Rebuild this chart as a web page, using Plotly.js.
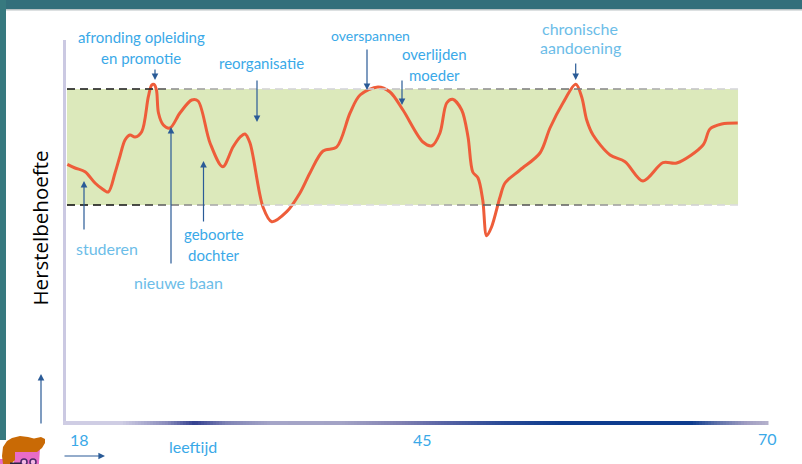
<!DOCTYPE html>
<html>
<head>
<meta charset="utf-8">
<script src="https://cdn.plot.ly/plotly-3.0.1.min.js"></script>
<style>html,body{margin:0;padding:0;background:#fff;overflow:hidden}#chart{width:802px;height:464px}</style>
</head>
<body>
<div id="chart"></div>
<script>
// Life-course curve: age (years) and recovery need (relative index)
const ages = [18.10,18.67,19.41,20.15,20.60,21.13,21.63,22.00,22.37,22.74,23.11,23.61,24.10,24.35,24.52,24.70,24.85,25.21,25.70,26.44,27.31,27.78,28.67,29.61,30.37,30.90,31.26,31.63,32.59,33.24,34.35,35.33,36.07,37.04,38.05,39.04,39.78,41.11,42.00,42.96,44.44,45.11,45.70,46.20,46.64,47.31,47.78,48.13,48.52,48.87,49.16,49.53,50.15,50.52,51.63,53.11,53.85,54.81,55.76,56.20,56.57,57.04,58.30,59.41,60.74,62.22,63.24,65.19,65.70,66.57,67.76];
const herstel = [258.7,255,251.3,240,235,231,250,267,283,288,286,291.3,326.3,338,338.7,333,310,298,295,310,323,322,280,256.3,276,286,289,280,216,201.3,211.3,230,250,272,276,310,328,336,331,313,281,277.3,290,320,323.7,313,286,251,245,223,187.3,196.3,226,240,253,270,295,320,338.7,326,303,288,268,261.3,242,260.3,260,278,294,299,300];
const bandLow = 218, bandHigh = 334, bandStart = 18.07, bandEnd = 67.78;

const tickLabels = ["18","45","70"];
const xTitle = "leeftijd", yTitle = "Herstelbehoefte";
const eventLabels = ["afronding opleiding","en promotie","reorganisatie","overspannen","overlijden","moeder","chronische","aandoening","studeren","geboorte","dochter","nieuwe baan"];

const W=802,H=464,pxPerYear=13.5;
const xr=[18-66/pxPerYear,18+(W-66)/pxPerYear], yr=[423-H,423];
const fx=p=>18+(p-66)/pxPerYear, fy=p=>423-p;

function hex(c){return [1,3,5].map(i=>parseInt(c.substr(i,2),16));}
function ramp(stops,p){
  if(p<=stops[0][0])return stops[0][1];
  for(let i=1;i<stops.length;i++){
    if(p<=stops[i][0]){
      const t=(p-stops[i-1][0])/(stops[i][0]-stops[i-1][0]),a=hex(stops[i-1][1]),b=hex(stops[i][1]);
      return "rgb("+a.map((v,k)=>Math.round(v+(b[k]-v)*t)).join(",")+")";
    }
  }
  return stops[stops.length-1][1];
}
const rectPx=(x0,y0,x1,y1,color,layer)=>({type:"rect",xref:"x",yref:"y",x0:fx(x0),x1:fx(x1),y0:fy(y0),y1:fy(y1),fillcolor:color,line:{width:0},layer:layer||"below"});
const pathPx=(pts,color)=>({type:"path",xref:"x",yref:"y",path:"M"+pts.map(p=>fx(p[0])+","+fy(p[1])).join("L")+"Z",fillcolor:color,line:{width:0},layer:"above"});
const circlePx=(cx,cy,r,fill,stroke)=>({type:"circle",xref:"x",yref:"y",x0:fx(cx-r),x1:fx(cx+r),y0:fy(cy-r),y1:fy(cy+r),fillcolor:fill,line:{color:stroke,width:1.5},layer:"above"});

const shapes=[];
// frame
shapes.push(rectPx(0,0,802,9,"#336f7b"));
shapes.push(rectPx(0,9,802,10.5,"#b9c2c4"));
shapes.push(rectPx(0,0,6,440,"#37797f"));
// healthy band
shapes.push({type:"rect",xref:"x",yref:"y",x0:bandStart,x1:bandEnd,y0:bandLow,y1:bandHigh,fillcolor:"#dce9bb",line:{width:0},layer:"below"});
// fading dashes
const topStops=[[67,"#1c1c1c"],[148,"#2a2a2a"],[170,"#8f8f8f"],[230,"#b8b8b8"],[260,"#d5d5d5"],[360,"#d5d5dc"],[420,"#b5b5b5"],[500,"#8a8a8a"],[560,"#767676"],[600,"#8c8c8c"],[660,"#b5b5b5"],[738,"#dcdce0"]];
const botStops=[[67,"#111111"],[135,"#222222"],[165,"#777777"],[210,"#aaaaaa"],[270,"#cfcfcf"],[320,"#dedee4"],[400,"#dcdce0"],[470,"#888888"],[490,"#4f4f4f"],[560,"#666666"],[600,"#999999"],[660,"#c8c8c8"],[738,"#dedee2"]];
for(let p=67;p<738;p+=13){
  const e=Math.min(p+8,738);
  shapes.push(rectPx(p,88.2,e,89.8,ramp(topStops,p),"above"));
  shapes.push(rectPx(p,204.2,e,205.8,ramp(botStops,p),"above"));
}
// axes
shapes.push(rectPx(63,40,66,425,"#cbc9e2"));
const axStops=[[63,"#cfcde4"],[120,"#cfcde4"],[165,"#8a8cbc"],[193,"#33408f"],[225,"#7f83b5"],[270,"#a5a5c8"],[340,"#a3a3c6"],[400,"#8080b2"],[440,"#5a65a5"],[500,"#2a4a96"],[560,"#0e3c8e"],[690,"#0e3c8e"],[715,"#5b6fa8"],[745,"#a09dc2"],[767,"#b5b2cc"]];
for(let p=63;p<767;p+=3){shapes.push(rectPx(p,421,p+3.5,425,ramp(axStops,p)));}
// character in the corner
shapes.push(rectPx(0,459,8,464,"#e86cc8","above"));
shapes.push(pathPx([[14,448],[40,448],[39,464],[14,464]],"#e86cc8"));
shapes.push(pathPx([[2,456],[3,447],[7,441],[12,438],[20,436],[28,437],[34,438.5],[41,437],[45,439],[45,443],[42,448],[37,452],[15,452],[15,460],[11,464],[3,464]],"#c96a05"));
shapes.push(circlePx(24,462,3,"#f3b9e4","#4a2a6a"));
shapes.push(circlePx(33,462,3,"#f3b9e4","#4a2a6a"));
shapes.push(rectPx(10,462.5,21,464,"#2b2340","above"));

// labels
const blue="#3aa9e8", pale="#6cbde8";
const ann=[];
function txt(t,x,y,color,size,extra,family){ann.push(Object.assign({text:t,xref:"x",yref:"y",x:fx(x),y:fy(y),showarrow:false,xanchor:"center",yanchor:"middle",font:{family:family||"Lato, sans-serif",size:size||15,color:color||blue}},extra||{}));}
const labelPos=[[141.5,37],[141,58],[261.5,63],[370.5,35],[434.5,54],[434.5,75],[580,28],[580,47],[107,248],[214,234],[214,255],[178.5,282]];
const labelCol=[blue,blue,blue,blue,blue,blue,pale,pale,pale,blue,blue,pale];
const labelSize=[15,15,15,14,15,15,16,16,16,15,15,16];
eventLabels.forEach((t,i)=>txt(t,labelPos[i][0],labelPos[i][1],labelCol[i],labelSize[i]));
const tickPos=[[79,439],[422,439],[767,438]];
tickLabels.forEach((t,i)=>txt(t,tickPos[i][0],tickPos[i][1],blue,16));
txt(xTitle,192.5,446,blue,16);
txt(yTitle,39,228.5,"#000000",20.5,{textangle:-90},"Open Sans, sans-serif");

// arrows: tip x, tip y, tail x, tail y
const arrows=[[155,80,155,68],[257,122,257,79],[367,90,367,48],[402,105,402,79],[575.7,80,575.7,62],[84,181,84,231],[171,127,171,265],[203.5,161,203.5,223],[41,374,41,425],[105,456,63,456]];
arrows.forEach(a=>ann.push({text:"",xref:"x",yref:"y",x:fx(a[0]),y:fy(a[1]),axref:"pixel",ayref:"pixel",ax:a[2]-a[0],ay:a[3]-a[1],showarrow:true,arrowhead:2,arrowsize:1.1,arrowwidth:1.2,arrowcolor:"#2a5b97"}));

Plotly.newPlot("chart",[{
  type:"scatter",mode:"lines",x:ages,y:herstel,
  line:{color:"#ee5d3a",width:3,shape:"spline",smoothing:0.9},hoverinfo:"skip"
}],{
  width:W,height:H,margin:{l:0,r:0,t:0,b:0},showlegend:false,
  paper_bgcolor:"#ffffff",plot_bgcolor:"#ffffff",
  xaxis:{range:xr,visible:false,fixedrange:true},
  yaxis:{range:yr,visible:false,fixedrange:true},
  shapes:shapes,annotations:ann
},{displayModeBar:false,staticPlot:true});
</script>
</body>
</html>
